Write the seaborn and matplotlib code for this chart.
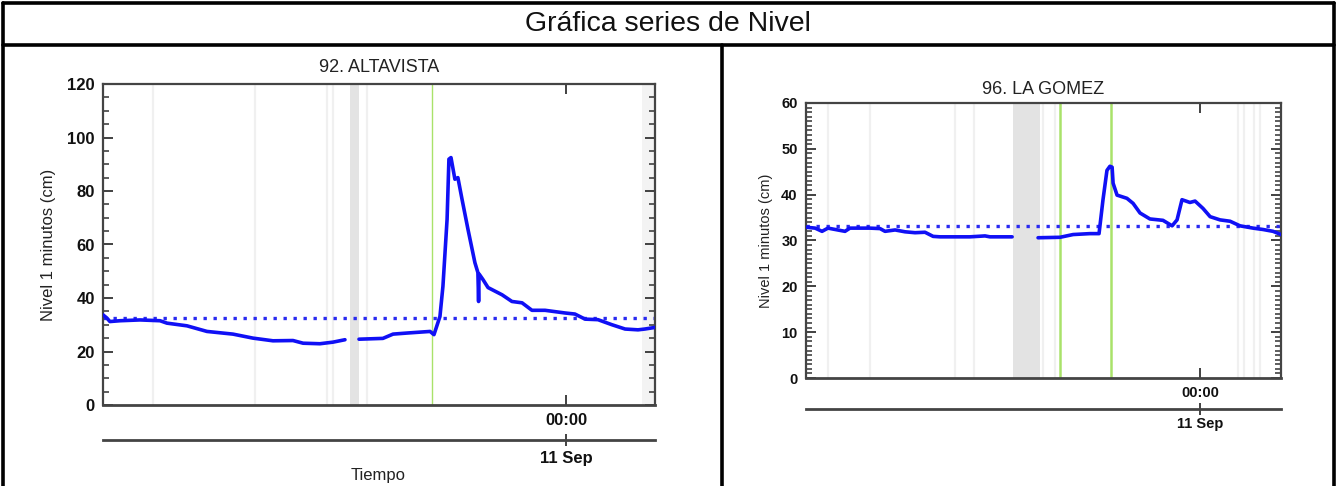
import pandas as pd
import seaborn as sns
import matplotlib.pyplot as plt
from matplotlib.lines import Line2D
from matplotlib.ticker import MultipleLocator, FixedLocator

sns.set_style("white")
plt.rcParams['font.family'] = ['Liberation Sans', 'DejaVu Sans']

# time in hours relative to 11 Sep 00:00
alt_hours_1 = [-20.13, -19.96, -19.83, -19.39, -18.52, -17.65, -17.35, -16.48, -15.61,
               -14.48, -13.61, -12.74, -11.87, -11.43, -10.70, -10.13, -9.61]
alt_level_1 = [33.7, 32.5, 31.2, 31.5, 31.8, 31.5, 30.6, 29.6, 27.5,
               26.5, 25.0, 24.0, 24.1, 23.1, 22.9, 23.5, 24.4]
alt_hours_2 = [-9.00, -7.96, -7.52, -6.91, -5.91, -5.74, -5.48, -5.35, -5.17, -5.09, -5.00,
               -4.83, -4.70, -4.52, -4.26, -3.96, -3.83, -3.80, -3.78, -3.61, -3.39, -2.78,
               -2.35, -1.91, -1.48, -0.91, -0.04, 0.39, 0.83, 1.39, 2.00, 2.57, 3.13, 3.43, 3.87]
alt_level_2 = [24.6, 24.9, 26.5, 26.9, 27.5, 26.3, 33.1, 44.4, 69.4, 91.9, 92.5,
               84.4, 85.0, 76.9, 65.6, 53.2, 49.5, 38.7, 49.0, 46.9, 43.9, 41.2,
               38.7, 38.2, 35.4, 35.4, 34.4, 34.0, 32.1, 31.9, 30.0, 28.4, 28.1, 28.4, 29.0]
alt_ref = 32.5
alt_green = [-5.83]
alt_faint = [-17.96, -13.52, -10.39, -10.13, -8.65]
alt_gap = (-9.39, -9.0)
alt_edge = (3.30, 3.87)

gom_hours_1 = [-19.90, -19.44, -19.09, -18.79, -17.93, -17.68, -16.67, -16.16, -15.91,
               -15.40, -14.90, -14.39, -13.89, -13.48, -13.13, -11.62, -10.86, -10.61, -9.49]
gom_level_1 = [32.9, 32.7, 32.0, 32.7, 32.0, 32.7, 32.7, 32.6, 32.0,
               32.3, 31.9, 31.7, 31.8, 30.9, 30.8, 30.8, 31.0, 30.8, 30.8]
gom_hours_2 = [-8.18, -7.07, -6.41, -5.56, -5.10, -4.90, -4.70, -4.55, -4.44, -4.39, -4.19,
               -3.69, -3.38, -3.03, -2.53, -1.87, -1.41, -1.16, -0.91, -0.51, -0.25, 0.15,
               0.51, 1.01, 1.52, 2.02, 2.68, 3.18, 3.69, 4.09]
gom_level_2 = [30.6, 30.7, 31.3, 31.5, 31.5, 38.9, 45.3, 46.2, 46.0, 42.5, 39.9,
               39.2, 38.1, 36.0, 34.7, 34.4, 33.2, 34.5, 38.9, 38.3, 38.6, 37.0,
               35.2, 34.5, 34.2, 33.2, 32.7, 32.4, 32.0, 31.3]
gom_ref = 33.1
gom_green = [-7.07, -4.49]
gom_faint = [-18.79, -16.67, -12.37, -11.41, -7.93, -7.32, 1.92, 2.22, 2.73, 3.03]
gom_gap = (-9.44, -8.08)

W, H = 1337, 486
fig = plt.figure(figsize=(W / 100, H / 100), dpi=100)


def rect(x0, y0, x1, y1):
    return [x0 / W, 1 - y1 / H, (x1 - x0) / W, (y1 - y0) / H]


def panel(box, title, parts, ref, xlim, ylim, ymaj, ymin, greens, faint, gap,
          fs_tick, title_pad, label_x, green_lw, tick_pad, date_loc, date_pad):
    ax = fig.add_axes(box)
    for h in faint:
        ax.axvline(h, color='#f0f0f0', lw=1.6, zorder=0)
    ax.axvspan(*gap, color='#e3e3e3', lw=0, zorder=0)
    for h in greens:
        ax.axvline(h, color='#a9e26a', lw=green_lw, zorder=1)
    for hrs, lev in parts:
        df = pd.DataFrame({'hora': hrs, 'nivel': lev})
        sns.lineplot(data=df, x='hora', y='nivel', ax=ax, color='#1010f5',
                     lw=2.6, estimator=None, sort=False, zorder=3)
    ax.axhline(ref, color='#2a2af0', lw=2.4, ls=(0, (1, 2.0)), zorder=2)
    ax.set_xlim(*xlim)
    ax.set_ylim(*ylim)
    ax.yaxis.set_major_locator(MultipleLocator(ymaj))
    ax.yaxis.set_minor_locator(MultipleLocator(ymin))
    ax.xaxis.set_major_locator(FixedLocator([0]))
    ax.set_xticklabels(['00:00'])
    ax.tick_params(which='both', direction='in', left=True, right=True, top=True,
                   bottom=True, colors='#333333', labelcolor='#111111')
    ax.tick_params(which='major', length=7, width=1.3, labelsize=fs_tick, pad=tick_pad)
    ax.tick_params(which='minor', length=4, width=1.1)
    for t in ax.get_xticklabels() + ax.get_yticklabels():
        t.set_fontweight('bold')
    for s in ax.spines.values():
        s.set_color('#444444')
        s.set_linewidth(1.6)
    ax.spines['bottom'].set_linewidth(2.0)
    ax.set_xlabel('')
    ax.set_ylabel('Nivel 1 minutos (cm)', fontsize=fs_tick, color='#222222')
    ax.yaxis.set_label_coords(label_x, 0.5)
    ax.set_title(title, fontsize=13, color='#222222', pad=title_pad)

    sec = ax.secondary_xaxis(date_loc)
    sec.set_xticks([0])
    sec.set_xticklabels(['11 Sep'], fontweight='bold')
    sec.tick_params(direction='inout', length=8, width=1.3, colors='#333333',
                    labelcolor='#111111', labelsize=fs_tick, pad=date_pad)
    sec.spines['bottom'].set_color('#444444')
    sec.spines['bottom'].set_linewidth(2.0)
    return ax


ax1 = panel(rect(103, 84, 655, 405), '92. ALTAVISTA',
            [(alt_hours_1, alt_level_1), (alt_hours_2, alt_level_2)], alt_ref,
            (-20.13, 3.87), (0, 120), 20, 5, alt_green, alt_faint, alt_gap,
            12, 8.5, -0.085, 1.0, 6, -0.109, 4)
ax1.axvspan(*alt_edge, color='#f3f3f3', lw=0, zorder=0)
fig.text(378 / W, 1 - 475 / H, 'Tiempo', ha='center', va='center',
         fontsize=12, color='#222222')

ax2 = panel(rect(806, 103, 1281, 378), '96. LA GOMEZ',
            [(gom_hours_1, gom_level_1), (gom_hours_2, gom_level_2)], gom_ref,
            (-19.9, 4.09), (0, 60), 10, 1, gom_green, gom_faint, gom_gap,
            10.5, 6.5, -0.07, 1.8, 6, -0.112, 2)

# table-like frame
frame = dict(color='black', lw=2.6, transform=fig.transFigure)
fig.add_artist(Line2D([3 / W, 1334 / W], [1 - 3 / H, 1 - 3 / H], **frame))
fig.add_artist(Line2D([3 / W, 1334 / W], [1 - 45 / H, 1 - 45 / H], **frame))
fig.add_artist(Line2D([3 / W, 3 / W], [0, 1 - 3 / H], **frame))
fig.add_artist(Line2D([1334 / W, 1334 / W], [0, 1 - 3 / H], **frame))
fig.add_artist(Line2D([722 / W, 722 / W], [0, 1 - 45 / H], **frame))
fig.text(668 / W, 1 - 24 / H, 'Gráfica series de Nivel', ha='center', va='center',
         fontsize=20.5, color='#111111')

fig.savefig('out.png', dpi=100)
